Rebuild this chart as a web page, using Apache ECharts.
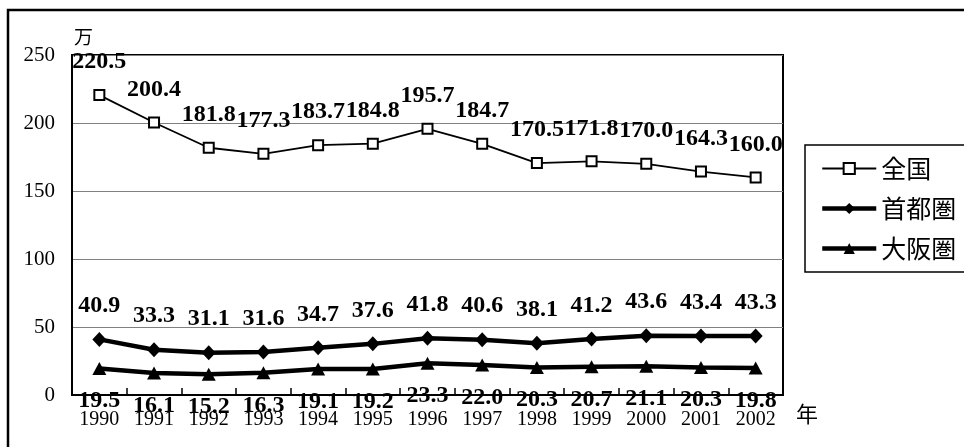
<!DOCTYPE html>
<html><head><meta charset="utf-8">
<script src="https://cdn.jsdelivr.net/npm/echarts@6/dist/echarts.min.js"></script>
<style>html,body{margin:0;padding:0;background:#fff}#c{width:964px;height:447px}</style>
</head><body><div id="c"></div>
<script>
const years = ['1990','1991','1992','1993','1994','1995','1996','1997','1998','1999','2000','2001','2002'];
const zenkoku = [220.5,200.4,181.8,177.3,183.7,184.8,195.7,184.7,170.5,171.8,170.0,164.3,160.0];
const shutoken = [40.9,33.3,31.1,31.6,34.7,37.6,41.8,40.6,38.1,41.2,43.6,43.4,43.3];
const osakaken = [19.5,16.1,15.2,16.3,19.1,19.2,23.3,22.0,20.3,20.7,21.1,20.3,19.8];
const seriesNames = ['全国','首都圏','大阪圏'];
const yTicks = {min:0, max:250, interval:50};

const serif = '"Liberation Serif","Times New Roman",serif';
const cjk = '"Noto Sans CJK JP","Noto Sans",sans-serif';
const lbl = (pos, dist) => ({show:true, position:pos, distance:dist, color:'#000', fontFamily:serif, fontWeight:'bold', fontSize:24,
  formatter: p => Number(p.value).toFixed(1)});

const chart = echarts.init(document.getElementById('c'), null, {renderer:'canvas'});
chart.setOption({
  backgroundColor:'#fff',
  animation:false,
  grid:{left:72, top:55, width:711, height:340, show:true, borderColor:'#000', borderWidth:2, backgroundColor:'transparent'},
  legend:{orient:'vertical', left:815, top:151, itemWidth:54, itemHeight:14, itemGap:15,
    textStyle:{fontFamily:cjk, fontSize:25, color:'#000'},
    data:[
      {name:seriesNames[0], lineStyle:{width:1.8}},
      {name:seriesNames[1], lineStyle:{width:4.5}},
      {name:seriesNames[2], lineStyle:{width:4.5}}
    ]},
  xAxis:{type:'category', data:years, boundaryGap:true,
    axisLine:{lineStyle:{color:'#000', width:2}},
    axisTick:{show:true, inside:true, length:7, interval:0, lineStyle:{color:'#000', width:1.5}},
    axisLabel:{color:'#000', fontFamily:serif, fontSize:20, margin:15, interval:0}},
  yAxis:{type:'value', min:yTicks.min, max:yTicks.max, interval:yTicks.interval,
    axisLine:{show:true, lineStyle:{color:'#000', width:2}},
    axisTick:{show:false},
    axisLabel:{color:'#000', fontFamily:serif, fontSize:21, margin:17},
    splitLine:{lineStyle:{color:'#808080', width:1.2}}},
  graphic:[
    {type:'rect', shape:{x:8, y:10, width:1000, height:500}, style:{fill:null, stroke:'#000', lineWidth:2.5}, z:-1},
    {type:'rect', shape:{x:805, y:145, width:200, height:127}, style:{fill:'#fff', stroke:'#000', lineWidth:1.5}, z:-1},
    {type:'text', left:74, top:27, style:{text:'万', font:'19px '+cjk, fill:'#000'}},
    {type:'text', left:796, top:403, style:{text:'年', font:'22px '+cjk, fill:'#000'}}
  ],
  series:[
    {name:seriesNames[0], type:'line', data:zenkoku, symbol:'rect', symbolSize:10,
      lineStyle:{color:'#000', width:1.8}, itemStyle:{color:'#fff', borderColor:'#000', borderWidth:2},
      label:lbl('top',15), z:3},
    {name:seriesNames[1], type:'line', data:shutoken, symbol:'diamond', symbolSize:[14,15],
      lineStyle:{color:'#000', width:4.5}, itemStyle:{color:'#000'},
      label:lbl('top',14), z:3},
    {name:seriesNames[2], type:'line', data:osakaken, symbol:'triangle', symbolSize:[14,13],
      lineStyle:{color:'#000', width:4.5}, itemStyle:{color:'#000'},
      label:lbl('bottom',14), z:3}
  ]
});
</script></body></html>
